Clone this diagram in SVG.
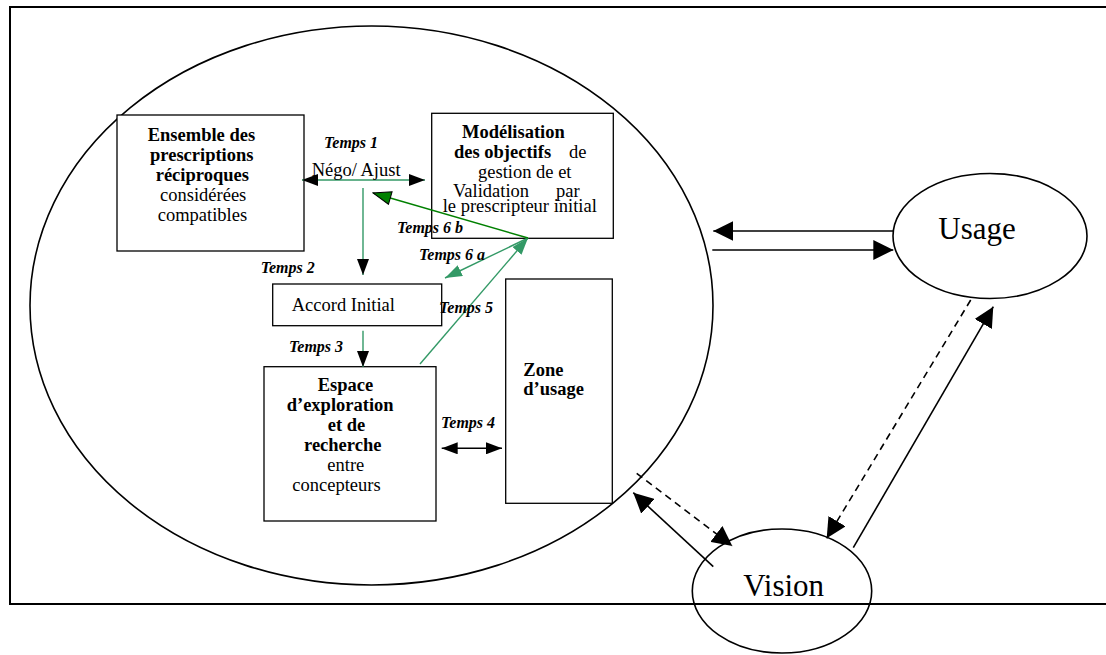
<svg xmlns="http://www.w3.org/2000/svg" width="1106" height="655" viewBox="0 0 1106 655">
<style>
text{font-family:"Liberation Serif","Times New Roman",serif;fill:#000}
.t{font-size:18.5px}
.b{font-size:18.5px;font-weight:bold}
.lbl{font-size:16px;font-weight:bold;font-style:italic}
.big{font-size:31px}
.box{fill:#fff;stroke:#000;stroke-width:1.3}
.ell{fill:none;stroke:#000;stroke-width:1.6}
.k{stroke:#000;stroke-width:1.6;fill:none}
.g{stroke:#339966;stroke-width:1.4;fill:none}
.dg{stroke:#008000;stroke-width:1.4;fill:none}
.dash{stroke-dasharray:7,5}
</style>
<defs>
<marker id="ak" viewBox="0 0 16 12" refX="16" refY="6" markerWidth="16" markerHeight="12" orient="auto-start-reverse" markerUnits="userSpaceOnUse"><path d="M0,0 L16,6 L0,12 z" fill="#000"/></marker>
<marker id="ag" viewBox="0 0 17 12" refX="17" refY="6" markerWidth="17" markerHeight="12" orient="auto-start-reverse" markerUnits="userSpaceOnUse"><path d="M0,0 L17,6 L0,12 z" fill="#339966"/></marker>
<marker id="adg" viewBox="-1 -1 20 15" refX="18" refY="6.5" markerWidth="20" markerHeight="15" orient="auto" markerUnits="userSpaceOnUse"><path d="M0,0 L18,6.5 L0,13 z" fill="#008000" stroke="#000" stroke-width="1"/></marker>
<marker id="aK" viewBox="0 0 20 20" refX="20" refY="10" markerWidth="20" markerHeight="20" orient="auto" markerUnits="userSpaceOnUse"><path d="M0,0 L20,10 L0,20 z" fill="#000"/></marker>
</defs>
<rect width="1106" height="655" fill="#fff"/>
<path d="M1106,7 H10 V604 H1106" fill="none" stroke="#000" stroke-width="2"/>
<g id="systeme"><ellipse class="ell" cx="371.5" cy="305.5" rx="341.5" ry="279.5"/></g>
<g id="ensemble">
<rect class="box" x="117" y="115" width="187" height="136"/>
<text class="b" x="147.7" y="141">Ensemble des</text>
<text class="b" x="150" y="161">prescriptions</text>
<text class="b" x="155.7" y="181">réciproques</text>
<text class="t" x="160" y="201">considérées</text>
<text class="t" x="157.7" y="221">compatibles</text>
</g>
<g id="modelisation">
<rect class="box" x="431.7" y="113.3" width="181.6" height="125"/>
<text class="b" x="462" y="138">Modélisation</text>
<text x="454" y="158"><tspan class="b">des objectifs</tspan><tspan class="t" x="569">de</tspan></text>
<text class="t" x="478" y="178">gestion de et</text>
<text class="t" x="453" y="196.7">Validation<tspan x="556">par</tspan></text>
<text class="t" x="442.7" y="212.3">le prescripteur initial</text>
</g>
<g id="accord">
<rect class="box" x="272.7" y="284" width="169" height="41.7"/>
<text class="t" x="291.7" y="310.7">Accord Initial</text>
</g>
<g id="espace">
<rect class="box" x="264" y="366.7" width="172" height="154.3"/>
<text class="b" x="317.7" y="391">Espace</text>
<text class="b" x="286.7" y="411">d’exploration</text>
<text class="b" x="327.7" y="431">et de</text>
<text class="b" x="304" y="451">recherche</text>
<text class="t" x="327.3" y="471">entre</text>
<text class="t" x="292.3" y="491">concepteurs</text>
</g>
<g id="zone">
<rect class="box" x="505.7" y="279" width="106.6" height="224.3"/>
<text class="b" x="523.3" y="376">Zone</text>
<text class="b" x="523.3" y="395">d’usage</text>
</g>
<g id="usage">
<ellipse class="ell" cx="990" cy="236" rx="97" ry="62.5"/>
<text class="big" x="938.3" y="239.3">Usage</text>
</g>
<g id="vision">
<ellipse class="ell" cx="782" cy="591" rx="89.7" ry="62"/>
<text class="big" x="743.3" y="596">Vision</text>
</g>
<g id="connecteurs">
<line class="g" x1="302" y1="180" x2="425" y2="180" marker-start="url(#ak)" marker-end="url(#ak)"/>
<line class="g" x1="363" y1="188" x2="363" y2="275" marker-end="url(#ak)"/>
<line class="g" x1="363" y1="330.7" x2="363" y2="367" marker-end="url(#ak)"/>
<line class="k" x1="441.7" y1="448.3" x2="502" y2="448.3" marker-start="url(#ak)" marker-end="url(#ak)"/>
<line class="g" x1="420" y1="364" x2="528" y2="238" marker-end="url(#ag)"/>
<line class="g" x1="528" y1="238" x2="445" y2="278" marker-end="url(#ag)"/>
<line class="dg" x1="528" y1="238" x2="373" y2="193" marker-end="url(#adg)"/>
<line class="k" x1="893" y1="231" x2="713.3" y2="231" marker-end="url(#aK)"/>
<line class="k" x1="712.3" y1="250" x2="893.3" y2="250" marker-end="url(#aK)"/>
<line class="k dash" x1="970.7" y1="300" x2="826.7" y2="538.3" marker-end="url(#aK)"/>
<line class="k" x1="853.3" y1="547.7" x2="993.3" y2="306.7" marker-end="url(#aK)"/>
<line class="k" x1="713.3" y1="566.7" x2="633.3" y2="492.7" marker-end="url(#aK)"/>
<line class="k dash" x1="636.7" y1="473.3" x2="732.3" y2="546" marker-end="url(#aK)"/>
<text class="lbl" x="324" y="148">Temps 1</text>
<text class="t" x="311.7" y="176">Négo/ Ajust</text>
<text class="lbl" x="260.7" y="273">Temps 2</text>
<text class="lbl" x="289" y="351.7">Temps 3</text>
<text class="lbl" x="441" y="427.7">Temps 4</text>
<text class="lbl" x="439" y="313.3">Temps 5</text>
<text class="lbl" x="419" y="260">Temps 6 a</text>
<text class="lbl" x="397" y="233">Temps 6 b</text>
</g>
</svg>
